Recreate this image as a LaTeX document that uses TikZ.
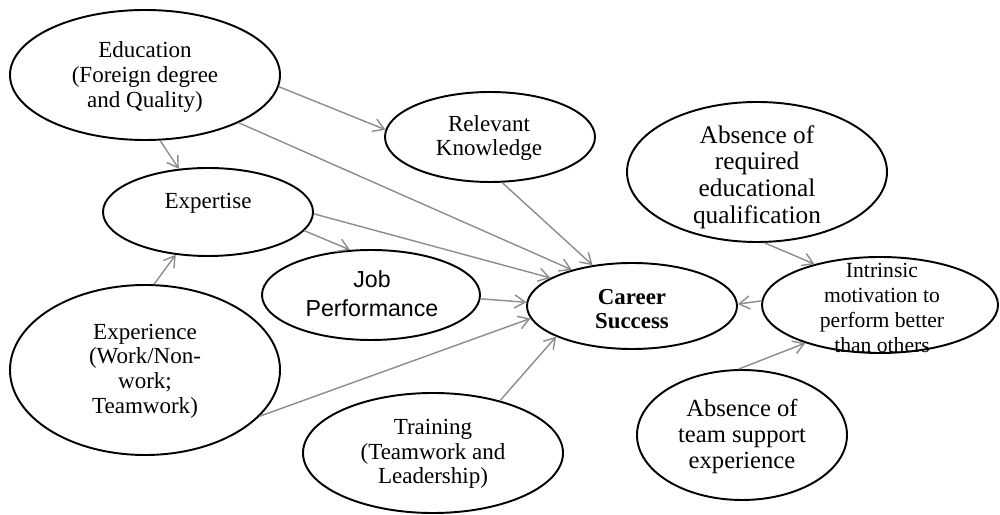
\documentclass[tikz,border=0pt]{standalone}
\usepackage{fontspec}
\setmainfont{Liberation Serif}
\newfontfamily\jobfont{Liberation Sans}
\usetikzlibrary{shapes.geometric,arrows.meta}
\definecolor{linkgray}{gray}{0.55}
\begin{document}
\begin{tikzpicture}[x=0.2mm,y=-0.2mm,
  oval/.style={ellipse,draw=black,line width=1.1pt,fill=white,inner sep=0pt},
  lbl/.style={align=center,inner sep=0pt,font=\fontsize{13.1pt}{14pt}\selectfont},
  link/.style={draw=linkgray,line width=0.8pt,-{Straight Barb[length=6pt,width=7.5pt,line width=0.8pt]}}]
\useasboundingbox (0,0) rectangle (1000,515);

% constructs
\node[oval,minimum width=54mm,minimum height=26mm]   (edu)     at (145,75)  {};
\node[oval,minimum width=42mm,minimum height=18mm]   (rel)     at (490,137) {};
\node[oval,minimum width=52mm,minimum height=28mm]   (absedu)  at (757,172) {};
\node[oval,minimum width=47.2mm,minimum height=19.2mm] (intr)  at (880,305) {};
\node[oval,minimum width=42mm,minimum height=17.2mm] (car)     at (632,306) {};
\node[oval,minimum width=42mm,minimum height=17.6mm] (exp)     at (208,212) {};
\node[oval,minimum width=43.6mm,minimum height=18mm] (job)     at (371,295) {};
\node[oval,minimum width=54mm,minimum height=34mm]   (expr)    at (145,370) {};
\node[oval,minimum width=52mm,minimum height=24mm]   (train)   at (433,453) {};
\node[oval,minimum width=42mm,minimum height=26mm]   (absteam) at (742,435) {};

% labels
\node[lbl] (edu-t) at (145,77) {Education\\(Foreign degree\\and Quality)};
\node[lbl] (rel-t) at (489,138) {Relevant\\Knowledge};
\node[lbl,font=\fontsize{14.4pt}{15.1pt}\selectfont] (absedu-t) at (757,177)
  {Absence of\\required\\educational\\qualification};
\node[lbl,font=\fontsize{12.3pt}{14.2pt}\selectfont] (intr-t) at (882,308)
  {Intrinsic\\motivation to\\perform better\\than others};
\node[lbl,font=\fontsize{13pt}{13.8pt}\selectfont\bfseries] (car-t) at (632,309) {Career\\Success};
\node[lbl] (exp-t) at (208,203) {Expertise};
\node[lbl,font=\fontsize{13.2pt}{16.5pt}\selectfont\jobfont] (job-t) at (372,294) {Job\\Performance};
\node[lbl] (expr-t) at (145,371) {Experience\\(Work/Non-\\work;\\Teamwork)};
\node[lbl] (train-t) at (433,454) {Training\\(Teamwork and\\Leadership)};
\node[lbl,font=\fontsize{14pt}{14.8pt}\selectfont] (absteam-t) at (742,436)
  {Absence of\\team support\\experience};

% paths
\draw[link] (edu.-5.5)   -- (rel.176);
\draw[link] (edu.-27.8)  -- (car.149.3);
\draw[link] (edu.-77)    -- (exp.124);
\draw[link] (exp.-1.6)   -- (car.161.8);
\draw[link] (exp.-11.9)  -- (job.115.6);
\draw[link] (rel.-75)    -- (car.134.3);
\draw[link] (job.-2)     -- (car.178);
\draw[link] (expr.84.7)  -- (exp.-127.8);
\draw[link] (expr.-22.3) -- (car.187.3);
\draw[link] (train.38.3) -- (car.202.6);
\draw[link] (absedu.-84) -- (intr.148);
\draw[link] (intr.178.5) -- (car.1.6);
\draw[link] (absteam.93.5) -- (intr.207.5);
\end{tikzpicture}
\end{document}
